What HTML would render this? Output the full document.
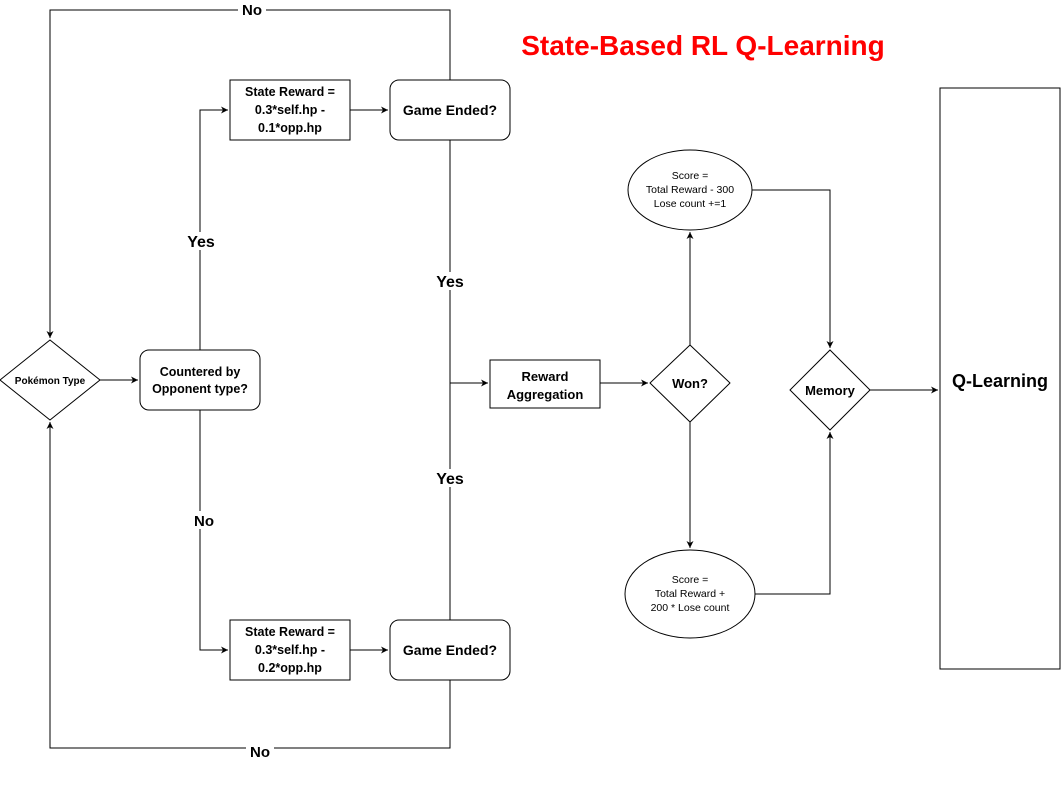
<!DOCTYPE html>
<html><head><meta charset="utf-8"><style>
html,body{margin:0;padding:0;background:#fff;}
svg{display:block;font-family:"Liberation Sans",Arial,sans-serif;}
</style></head><body>
<svg width="1061" height="790" viewBox="0 0 1061 790" xmlns="http://www.w3.org/2000/svg">
<defs><marker id="a" markerWidth="8" markerHeight="8" refX="7" refY="4" orient="auto" markerUnits="userSpaceOnUse"><path d="M0,0.5 L7,4 L0,7.5 L2,4 Z" fill="#000"/></marker></defs>
<g fill="none" stroke="#000" stroke-width="1">
<path d="M450,80 V10 H50 V338" marker-end="url(#a)"/>
<path d="M450,680 V748 H50 V422" marker-end="url(#a)"/>
<path d="M100,380 H138" marker-end="url(#a)"/>
<path d="M200,350 V110 H228" marker-end="url(#a)"/>
<path d="M200,410 V650 H228" marker-end="url(#a)"/>
<path d="M350,110 H388" marker-end="url(#a)"/>
<path d="M350,650 H388" marker-end="url(#a)"/>
<path d="M450,140 V620"/>
<path d="M450,383 H488" marker-end="url(#a)"/>
<path d="M600,383 H648" marker-end="url(#a)"/>
<path d="M690,345 V232" marker-end="url(#a)"/>
<path d="M690,422 V548" marker-end="url(#a)"/>
<path d="M752,190 H830 V348" marker-end="url(#a)"/>
<path d="M755,594 H830 V432" marker-end="url(#a)"/>
<path d="M870,390 H938" marker-end="url(#a)"/>
</g>
<g fill="#fff" stroke="#000" stroke-width="1">
<path d="M50,340 L100,380 L50,420 L0,380 Z"/>
<rect x="140" y="350" width="120" height="60" rx="9"/>
<rect x="230" y="80" width="120" height="60"/>
<rect x="230" y="620" width="120" height="60"/>
<rect x="390" y="80" width="120" height="60" rx="9"/>
<rect x="390" y="620" width="120" height="60" rx="9"/>
<rect x="490" y="360" width="110" height="48"/>
<path d="M690,345 L730,383 L690,422 L650,383 Z" stroke-linejoin="round"/>
<ellipse cx="690" cy="190" rx="62" ry="40"/>
<ellipse cx="690" cy="594" rx="65" ry="44"/>
<path d="M830,350 L870,390 L830,430 L790,390 Z"/>
<rect x="940" y="88" width="120" height="581"/>
</g>
<g font-weight="bold" text-anchor="middle" fill="#000">
<rect x="238" y="2" width="28" height="16" fill="#fff"/>
<text x="252" y="15" font-size="15">No</text>
<rect x="246" y="744" width="28" height="16" fill="#fff"/>
<text x="260" y="757" font-size="15">No</text>
<rect x="185" y="232" width="32" height="18" fill="#fff"/>
<text x="201" y="247" font-size="16">Yes</text>
<rect x="190" y="511" width="28" height="18" fill="#fff"/>
<text x="204" y="526" font-size="15">No</text>
<rect x="434" y="272" width="32" height="18" fill="#fff"/>
<text x="450" y="287" font-size="16">Yes</text>
<rect x="434" y="469" width="32" height="18" fill="#fff"/>
<text x="450" y="484" font-size="16">Yes</text>
<text x="50" y="384" font-size="10">Pokémon Type</text>
<text x="200" y="376" font-size="12.5">Countered by</text>
<text x="200" y="393" font-size="12.5">Opponent type?</text>
<text x="290" y="96" font-size="12.5">State Reward =</text>
<text x="290" y="114" font-size="12.5">0.3*self.hp -</text>
<text x="290" y="132" font-size="12.5">0.1*opp.hp</text>
<text x="290" y="636" font-size="12.5">State Reward =</text>
<text x="290" y="654" font-size="12.5">0.3*self.hp -</text>
<text x="290" y="672" font-size="12.5">0.2*opp.hp</text>
<text x="450" y="115" font-size="14">Game Ended?</text>
<text x="450" y="655" font-size="14">Game Ended?</text>
<text x="545" y="381" font-size="13">Reward</text>
<text x="545" y="399" font-size="13">Aggregation</text>
<text x="690" y="388" font-size="13">Won?</text>
<text x="830" y="395" font-size="13">Memory</text>
<g font-weight="normal" font-size="10.5">
<text x="690" y="179">Score =</text>
<text x="690" y="193">Total Reward - 300</text>
<text x="690" y="207">Lose count +=1</text>
<text x="690" y="583">Score =</text>
<text x="690" y="597">Total Reward +</text>
<text x="690" y="611">200 * Lose count</text>
</g>
<text x="1000" y="387" font-size="18">Q-Learning</text>
<text x="703" y="55" font-size="28" fill="#ff0000">State-Based RL Q-Learning</text>
</g>
</svg>
</body></html>
